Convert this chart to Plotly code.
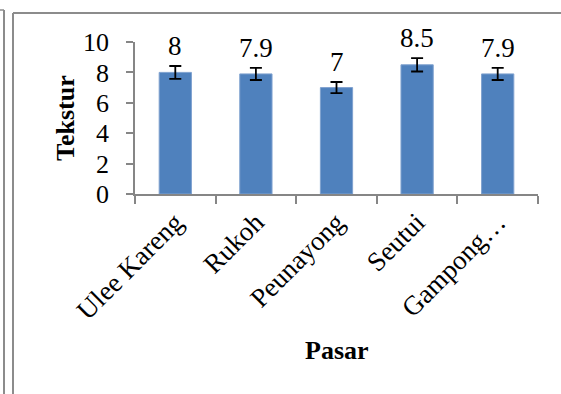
import plotly.graph_objects as go

categories = ["Ulee Kareng", "Rukoh", "Peunayong", "Seutui", "Gampong…"]
values = [8, 7.9, 7, 8.5, 7.9]
errors = [0.42, 0.40, 0.37, 0.44, 0.40]
value_labels = ["8", "7.9", "7", "8.5", "7.9"]
y_ticks = [0, 2, 4, 6, 8, 10]

W, H = 561, 394
L, R, T, B = 135, 538, 42, 194  # plot area in pixels


def px(x):
    return (x - L) / (R - L)


def py(y):
    return (B - y) / (B - T)


FONT = "Liberation Serif"
GRAY = "#868686"

fig = go.Figure()
fig.add_trace(go.Bar(
    x=categories, y=values, width=0.4,
    marker=dict(color="#4F81BD", line=dict(color="#7FA1CF", width=1)),
    error_y=dict(type="data", array=errors, visible=True, color="black",
                 thickness=1.8, width=6),
    hoverinfo="skip",
))

annotations = []
for c, v, e, t in zip(categories, values, errors, value_labels):
    annotations.append(dict(x=c, y=v + e, xref="x", yref="y", text=t,
                            showarrow=False, yanchor="bottom", yshift=3,
                            font=dict(family=FONT, size=27, color="black")))
annotations.append(dict(x=px(65), y=py(118), xref="paper", yref="paper",
                        text="<b>Tekstur</b>", textangle=-90, showarrow=False,
                        xanchor="center", yanchor="middle",
                        font=dict(family=FONT, size=26, color="black")))
annotations.append(dict(x=px(337), y=py(350), xref="paper", yref="paper",
                        text="<b>Pasar</b>", showarrow=False,
                        xanchor="center", yanchor="middle",
                        font=dict(family=FONT, size=26, color="black")))

shapes = [
    dict(type="line", xref="paper", yref="paper", x0=px(13), x1=px(13),
         y0=py(13), y1=py(400), line=dict(color="#8C8C8C", width=2)),
    dict(type="line", xref="paper", yref="paper", x0=px(13), x1=px(565),
         y0=py(13), y1=py(13), line=dict(color="#8C8C8C", width=2)),
    dict(type="line", xref="paper", yref="paper", x0=px(4), x1=px(4),
         y0=py(10), y1=py(400), line=dict(color="#8C8C8C", width=2)),
    dict(type="line", xref="paper", yref="paper", x0=px(-2), x1=px(4),
         y0=py(10), y1=py(10), line=dict(color="#8C8C8C", width=1.5)),
]

fig.update_layout(
    width=W, height=H,
    margin=dict(l=L, r=W - R, t=T, b=H - B, pad=0, autoexpand=False),
    paper_bgcolor="white", plot_bgcolor="white",
    showlegend=False,
    annotations=annotations,
    shapes=shapes,
    font=dict(family=FONT, color="black"),
)
fig.update_xaxes(
    type="category", range=[-0.5, 4.5], tickson="boundaries",
    ticks="outside", ticklen=8, tickwidth=1.5, tickcolor=GRAY,
    showline=True, linecolor=GRAY, linewidth=1.5, showgrid=False,
    tickangle=-45, tickfont=dict(family=FONT, size=27, color="black"),
    fixedrange=True, automargin=False,
)
fig.update_yaxes(
    range=[0, 10], tickvals=y_ticks, ticktext=[str(v) for v in y_ticks],
    ticks="outside", ticklen=7, tickwidth=1.5, tickcolor=GRAY,
    showline=True, linecolor=GRAY, linewidth=1.5, showgrid=False,
    zeroline=False, ticklabelstandoff=12,
    tickfont=dict(family=FONT, size=26, color="black"),
    fixedrange=True, automargin=False,
)

fig.write_html("out.html", config=dict(displayModeBar=False),
               post_script="document.body.style.margin='0';document.body.style.overflow='hidden';")
